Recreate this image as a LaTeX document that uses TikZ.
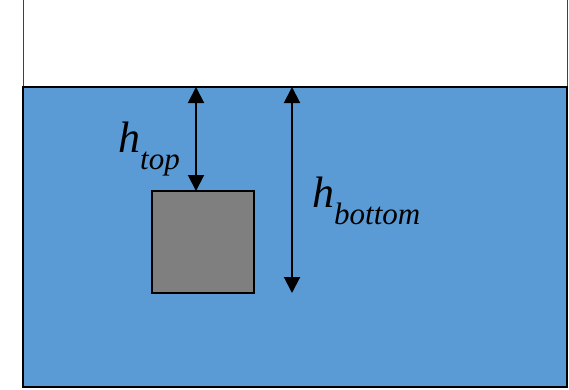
\documentclass[tikz,border=0pt]{standalone}
\usepackage{fontspec}
\setmainfont{Liberation Serif}
\usetikzlibrary{arrows.meta}
\definecolor{waterblue}{HTML}{5B9BD5}
\definecolor{blockgray}{HTML}{7F7F7F}
\tikzset{
  wall/.style={draw=black!75, line width=0.8pt},
  water/.style={draw, fill=waterblue, line width=2pt, minimum width=544pt, minimum height=300pt, inner sep=0pt},
  block/.style={draw, fill=blockgray, line width=2pt, minimum width=102pt, minimum height=102pt, inner sep=0pt},
  dim/.style={line width=2pt, {Triangle[width=16pt,length=16pt]}-{Triangle[width=16pt,length=16pt]}},
  lbl/.style={inner sep=0pt, anchor=base west}
}
\newcommand{\hsub}[1]{{\fontsize{44}{44}\selectfont\textit{h}}\raisebox{-17pt}{\fontsize{31}{31}\selectfont\textit{#1}}}
\begin{document}
\begin{tikzpicture}[x=1pt,y=-1pt]
\useasboundingbox (0,0) rectangle (569,389);
% tank walls above the water
\draw[wall] (23,0) -- (23,87);
\draw[wall] (567,0) -- (567,87);
\node[water] (water) at (295,237) {};
\node[block] (cube) at (203,242) {};
% depth markers
\coordinate (topA) at (196,87);
\coordinate (topB) at (196,191);
\coordinate (botA) at (292,87);
\coordinate (botB) at (292,293);
\draw[dim] (topA) -- (topB);
\draw[dim] (botA) -- (botB);
\node[lbl] (htop) at (118,152) {\hsub{top}};
\node[lbl] (hbot) at (312,207) {\hsub{bottom}};
\end{tikzpicture}
\end{document}
